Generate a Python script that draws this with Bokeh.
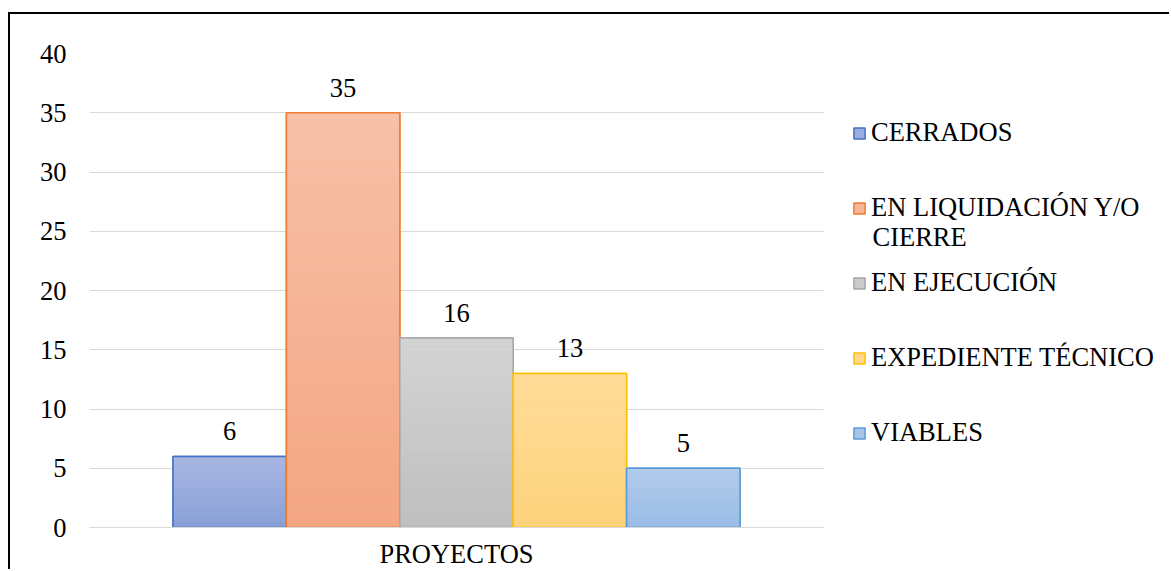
from bokeh.plotting import figure
from bokeh.models import (ColumnDataSource, Range1d, Legend, LegendItem,
                          LabelSet, Label, FixedTicker)
from bokeh.core.properties import value
from bokeh.embed import file_html
from bokeh.resources import INLINE

# --- data -----------------------------------------------------------------
group = "PROYECTOS"
estados = ["CERRADOS", "EN LIQUIDACIÓN Y/O CIERRE", "EN EJECUCIÓN",
           "EXPEDIENTE TÉCNICO", "VIABLES"]
cantidades = [6, 35, 16, 13, 5]
y_ticks = [0, 5, 10, 15, 20, 25, 30, 35, 40]

# --- styling per series: outline, gradient top, gradient bottom ---------------
outline_colors = ["#4472C4", "#ED7D31", "#A5A5A5", "#FFC000", "#5B9BD5"]
grad_top = [(170, 183, 226), (247, 193, 168), (212, 212, 212), (255, 220, 153), (178, 204, 236)]
grad_bot = [(137, 161, 216), (244, 166, 131), (191, 191, 191), (254, 211, 125), (155, 189, 230)]

FONT = "Liberation Serif"
FS = "26.5px"
BAR_W = 0.1545          # width of one series bar, in units of the category slot
GROUP_CENTER = 0.5      # the single category occupies [0, 1] on the x scale
N_STRIPS = 60

PLOT_W, PLOT_H = 1161, 557
BORDER_L, BORDER_T, BORDER_B = 79, 39, 43
SLOT_PX = 734           # on-screen width of the category slot
frame_w = PLOT_W - BORDER_L


def mix(c1, c2, t):
    r, g, b = (round(a + (b_ - a) * t) for a, b_ in zip(c1, c2))
    return f"#{r:02x}{g:02x}{b:02x}"


p = figure(x_range=Range1d(0, frame_w / SLOT_PX), y_range=Range1d(0, 40),
           width=PLOT_W, height=PLOT_H, output_backend="svg", toolbar_location=None,
           min_border_left=BORDER_L, min_border_top=BORDER_T, min_border_right=0,
           min_border_bottom=BORDER_B)
p.styles = {"margin-left": "8px", "margin-top": "12px",
            "border-left": "2px solid #000000", "border-top": "2px solid #000000"}
p.outline_line_color = None
p.background_fill_color = "white"
p.border_fill_color = "white"

legend_items = []
for i, (name, val) in enumerate(zip(estados, cantidades)):
    xc = GROUP_CENTER + (i - 2) * BAR_W

    # solid base bar (also used as the legend swatch)
    base_src = ColumnDataSource(dict(x=[xc], v=[val], lbl=[str(val)]))
    base = p.vbar(x="x", top="v", bottom=0, width=BAR_W, source=base_src,
                  fill_color=mix(grad_top[i], grad_bot[i], 0.45),
                  line_color=outline_colors[i], line_width=1.5)

    # vertical gradient: thin slices of the bar, lighter towards the top
    bottoms = [val * k / N_STRIPS for k in range(N_STRIPS)]
    tops = [val * (k + 1) / N_STRIPS for k in range(N_STRIPS)]
    cols = [mix(grad_bot[i], grad_top[i], (k + 0.5) / N_STRIPS) for k in range(N_STRIPS)]
    strip_src = ColumnDataSource(dict(x=[xc] * N_STRIPS, b=bottoms, t=tops, c=cols))
    p.vbar(x="x", top="t", bottom="b", width=BAR_W, source=strip_src,
           fill_color="c", line_color="c", line_width=0.6)

    # outline on top
    p.vbar(x="x", top="v", bottom=0, width=BAR_W, source=base_src,
           fill_color=None, line_color=outline_colors[i], line_width=1.5)

    labels = LabelSet(x="x", y="v", text="lbl", source=base_src,
                      text_align="center", text_baseline="middle", y_offset=25,
                      text_font=value(FONT), text_font_size=FS, text_color="#000000")
    p.add_layout(labels)

    shown = "EN LIQUIDACIÓN Y/O" if i == 1 else name
    legend_items.append(LegendItem(label=shown, renderers=[base]))

# axes & grid
p.yaxis.ticker = FixedTicker(ticks=y_ticks)
p.yaxis.axis_line_color = None
p.yaxis.major_tick_line_color = None
p.yaxis.minor_tick_line_color = None
p.yaxis.major_tick_out = 0
p.yaxis.major_tick_in = 0
p.yaxis.minor_tick_out = 0
p.yaxis.major_label_standoff = 23
p.yaxis.major_label_text_font = FONT
p.yaxis.major_label_text_font_size = FS
p.yaxis.major_label_text_color = "#000000"

p.xaxis.ticker = FixedTicker(ticks=[GROUP_CENTER])
p.xaxis.major_label_overrides = {GROUP_CENTER: group}
p.xaxis.bounds = (0, 1)
p.xaxis.axis_line_color = "#D9D9D9"
p.xaxis.axis_line_width = 1
p.xaxis.major_tick_line_color = None
p.xaxis.minor_tick_line_color = None
p.xaxis.major_tick_out = 0
p.xaxis.major_tick_in = 0
p.xaxis.minor_tick_out = 0
p.xaxis.major_label_standoff = 11
p.xaxis.major_label_text_font = FONT
p.xaxis.major_label_text_font_size = FS
p.xaxis.major_label_text_color = "#000000"

p.xgrid.grid_line_color = None
p.ygrid.grid_line_color = "#D9D9D9"
p.ygrid.grid_line_width = 1
p.ygrid.cross_bounds = (0, 1)

legend = Legend(items=legend_items, location=(763, 79),
                glyph_width=14, glyph_height=14, label_standoff=5,
                label_height=29, spacing=44, padding=0, margin=0,
                label_text_font=FONT, label_text_font_size=FS,
                label_text_color="#000000", border_line_color=None,
                background_fill_alpha=0)
p.add_layout(legend, "center")

# second line of the wrapped legend entry
p.add_layout(Label(x=783, y=291, x_units="screen", y_units="screen",
                   text="CIERRE", text_font=FONT, text_font_size=FS,
                   text_color="#000000", text_baseline="middle", text_align="left"))

open("out.html", "w").write(file_html(p, INLINE))
